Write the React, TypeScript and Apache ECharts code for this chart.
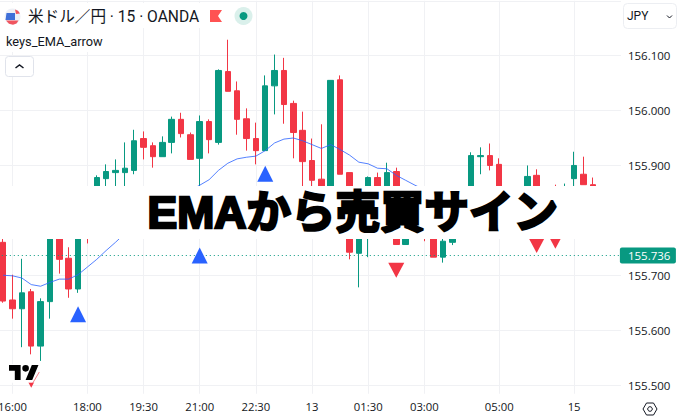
import React, { useEffect, useRef } from "react";
import * as echarts from "echarts";

const categories = [
  "15:30","15:45","16:00","16:15","16:30","16:45","17:00","17:15","17:30","17:45",
  "18:00","18:15","18:30","18:45","19:00","19:15","19:30","19:45","20:00","20:15",
  "20:30","20:45","21:00","21:15","21:30","21:45","22:00","22:15","22:30","22:45",
  "23:00","23:15","23:30","23:45","13","00:15","00:30","00:45","01:00","01:15",
  "01:30","01:45","02:00","02:15","02:30","02:45","03:00","03:15","03:30","03:45",
  "04:00","04:15","04:30","04:45","05:00","05:15","05:30","05:45","06:00","06:15",
  "06:30","06:45","15","07:15","07:30","07:45","08:00","08:15",
];
const timeLabels = ["16:00","18:00","19:30","21:00","22:30","13","01:30","03:00","05:00","15"];
const priceTicks = [155.5,155.6,155.7,155.8,155.9,156.0,156.1,156.2];
const priceLabels = [155.5,155.6,155.7,155.9,156.0,156.1];

const opens = [155.760,155.655,155.639,155.670,155.571,155.652,155.795,155.731,155.675,155.800,155.810,155.876,155.887,155.887,155.891,155.949,155.936,155.916,155.942,155.984,155.956,155.913,155.980,155.942,156.071,156.036,155.985,155.949,155.927,156.045,156.073,156.013,155.964,155.909,155.875,155.790,156.056,155.887,155.740,155.820,155.878,155.830,155.889,155.756,155.800,155.820,155.830,155.733,155.760,155.805,155.800,155.916,155.918,155.902,155.835,155.810,155.820,155.882,155.810,155.840,155.815,155.876,155.884,155.865];
const closes = [155.653,155.639,155.668,155.571,155.652,155.790,155.729,155.675,155.785,155.775,155.878,155.889,155.891,155.895,155.945,155.933,155.916,155.942,155.984,155.958,155.911,155.980,155.947,156.073,156.035,155.984,155.949,155.927,156.045,156.073,156.011,155.960,155.907,155.873,155.820,156.055,155.884,155.742,155.800,155.878,155.835,155.887,155.756,155.815,155.812,155.790,155.733,155.762,155.790,155.785,155.918,155.918,155.900,155.830,155.810,155.835,155.880,155.820,155.830,155.815,155.845,155.900,155.865,155.790];
const lows = [155.650,155.621,155.569,155.556,155.544,155.621,155.703,155.659,155.668,155.758,155.805,155.840,155.850,155.855,155.884,155.911,155.896,155.916,155.922,155.951,155.911,155.860,155.922,155.938,156.035,155.956,155.927,155.902,155.927,155.993,155.976,155.913,155.850,155.840,155.795,155.780,155.884,155.729,155.678,155.733,155.800,155.810,155.756,155.756,155.785,155.762,155.733,155.723,155.755,155.770,155.790,155.884,155.891,155.800,155.795,155.800,155.800,155.790,155.795,155.800,155.800,155.840,155.865,155.775];
const highs = [155.778,155.701,155.730,155.675,155.658,155.800,155.805,155.751,155.795,155.812,155.882,155.902,155.911,155.942,155.965,155.962,155.942,155.953,155.989,155.996,155.960,155.991,155.984,156.075,156.129,156.053,156.004,155.978,156.064,156.102,156.096,156.018,155.998,155.949,155.975,156.055,156.064,155.887,155.810,155.880,155.887,155.905,155.896,155.830,155.825,155.835,155.845,155.775,155.800,155.820,155.924,155.933,155.940,155.913,155.850,155.850,155.900,155.893,155.850,155.865,155.867,155.925,155.916,155.878];
const ema = [155.700,155.699,155.695,155.683,155.680,155.687,155.693,155.693,155.701,155.715,155.729,155.745,155.760,155.776,155.790,155.803,155.815,155.826,155.838,155.846,155.855,155.864,155.874,155.891,155.904,155.912,155.915,155.917,155.927,155.941,155.948,155.950,155.945,155.938,155.931,155.938,155.929,155.919,155.906,155.903,155.895,155.894,155.882,155.873,155.864,155.856,155.850,155.842,155.838,155.835,155.838,155.840,155.842,155.843,155.842,155.840,155.842,155.843,155.842,155.841,155.842,155.846,155.848,155.846];

const buyCandles = [8, 21, 28];
const buyPrices = [155.629, 155.736, 155.885];
const sellCandles = [3, 42, 57, 59];
const sellPrices = [155.509, 155.709, 155.754, 155.762];

const lastPrice = 155.736;
const title = "EMAから売買サイン";
const symbolTitle = "米ドル／円 · 15 · OANDA";
const indicatorName = "keys_EMA_arrow";
const currency = "JPY";

const GREEN = "#089981";
const RED = "#f23645";
const BLUE = "#2962ff";
const INK = "#131722";
const LATIN = 'Roboto,"Noto Sans CJK JP",sans-serif';

function App() {
  const ref = useRef<HTMLDivElement>(null);
  useEffect(() => {
    if (!ref.current) return;
    const chart = echarts.init(ref.current, undefined, { renderer: "svg" });
    try {
      echarts.graphic.registerShape(
        "tvlogo",
        echarts.graphic.extendPath("M14 22H7V11H0V4h14v18zM28 22h-8l7.5-18h8L28 22zM24 8a4 4 0 1 1-8 0 4 4 0 0 1 8 0z", {})
      );
    } catch (e) {}

    const pad = 1;
    const blank = ["-", "-", "-", "-"];
    const candleData = categories.map((_, k) => {
      const i = k - pad;
      return i >= 0 && i < opens.length ? [opens[i], closes[i], lows[i], highs[i]] : blank;
    });
    const emaData = categories.map((_, k) => {
      const i = k - pad;
      return i >= 0 && i < ema.length ? ema[i] : "-";
    });
    const showTime = (_: number, v: string) => timeLabels.includes(v);

    const overlay: any[] = [
      // overlay band for the thumbnail title
      { type: "rect", shape: { x: 0, y: 186, width: 680, height: 53 }, style: { fill: "#ffffff" } },
      {
        type: "text", x: 147.5, y: 212,
        style: {
          text: title, fontSize: 44.5, fontWeight: "bold",
          fontFamily: '"Liberation Sans","Noto Sans CJK JP",sans-serif',
          fill: "#000000", stroke: "#000000", lineWidth: 2.5,
          textVerticalAlign: "middle", verticalAlign: "middle", align: "left",
        },
      },
      // legend backgrounds
      { type: "rect", shape: { x: 0, y: 3, width: 254, height: 25 }, style: { fill: "#ffffff" } },
      { type: "rect", shape: { x: 0, y: 28, width: 105, height: 24 }, style: { fill: "#ffffff" } },
      // flag
      { type: "circle", shape: { cx: 12.5, cy: 16.5, r: 8 }, style: { fill: "#eef0f6" } },
      { type: "polygon", shape: { points: [[6.5, 13], [15, 13], [15, 20], [5.5, 20]] }, style: { fill: "#3f6fd8" } },
      { type: "polygon", shape: { points: [[6, 20.5], [18.5, 20.5], [16.5, 23.5], [13, 24.8], [9, 23.8]] }, style: { fill: "#f0555f" } },
      { type: "polygon", shape: { points: [[15, 9.5], [18, 10.8], [20, 13.5], [16, 14]] }, style: { fill: "#f0555f" } },
      {
        type: "text", x: 28, y: 16.5,
        style: { text: symbolTitle, fontSize: 15.6, fontFamily: LATIN, fill: INK, verticalAlign: "middle", textVerticalAlign: "middle" },
      },
      { type: "polygon", shape: { points: [[210, 10], [222, 10], [218, 16], [222, 22], [210, 22]] }, style: { fill: "#ff5252" } },
      { type: "circle", shape: { cx: 243.5, cy: 16, r: 9 }, style: { fill: "#daf0eb" } },
      { type: "circle", shape: { cx: 243.5, cy: 16, r: 4 }, style: { fill: GREEN } },
      {
        type: "text", x: 6, y: 41.5,
        style: { text: indicatorName, fontSize: 12.8, fontFamily: LATIN, fill: INK, verticalAlign: "middle", textVerticalAlign: "middle" },
      },
      { type: "rect", shape: { x: 5.5, y: 56.5, width: 28, height: 20, r: 3 }, style: { fill: "#ffffff", stroke: "#e0e3eb", lineWidth: 1 } },
      { type: "polyline", shape: { points: [[15.5, 68], [19.5, 65], [23.5, 68]] }, style: { fill: "none", stroke: INK, lineWidth: 1.5 } },
      // currency button
      { type: "rect", shape: { x: 623.5, y: 3.5, width: 53, height: 25, r: 4 }, style: { fill: "#ffffff", stroke: "#eceef2", lineWidth: 1 } },
      {
        type: "text", x: 627, y: 16,
        style: { text: currency, fontSize: 12, fontFamily: LATIN, fill: INK, verticalAlign: "middle", textVerticalAlign: "middle" },
      },
      { type: "polyline", shape: { points: [[667, 15.5], [669.5, 18], [672, 15.5]] }, style: { fill: "none", stroke: INK, lineWidth: 1 } },
      // settings gear
      { type: "polygon", shape: { points: [[643, 409], [646.5, 403], [653.5, 403], [657, 409], [653.5, 415], [646.5, 415]] }, style: { fill: "none", stroke: INK, lineWidth: 1 } },
      { type: "circle", shape: { cx: 650, cy: 409, r: 2.3 }, style: { fill: "none", stroke: INK, lineWidth: 1 } },
      // TradingView logo
      { type: "rect", shape: { x: 9, y: 364, width: 32, height: 18.7 }, style: { fill: "#ffffff" } },
      { type: "line", shape: { x1: 39.3, y1: 372, x2: 31, y2: 386 }, style: { stroke: RED, lineWidth: 0.8, opacity: 0.8 } },
      { type: "tvlogo", x: 9, y: 361.7, scaleX: 0.83, scaleY: 0.83, style: { fill: "#000000" } },
    ];

    chart.setOption({
      animation: false,
      backgroundColor: "#ffffff",
      grid: { left: -6.2, right: 59.1, top: 0.75, bottom: 26.25, containLabel: false, outerBoundsMode: "none" },
      xAxis: {
        type: "category",
        data: categories,
        boundaryGap: false,
        axisLine: { show: false },
        axisTick: { show: false },
        axisLabel: {
          interval: showTime,
          margin: 7.5,
          color: INK,
          fontSize: 11.3,
          fontFamily: '"Open Sans",sans-serif',
        },
        splitLine: { show: true, interval: showTime, lineStyle: { color: "#f0f1f4", width: 1 } },
      },
      yAxis: {
        type: "value",
        position: "right",
        min: 155.4842,
        max: 156.2,
        axisLine: { show: false },
        axisTick: { show: false, customValues: priceTicks },
        axisLabel: {
          customValues: priceLabels,
          margin: 7,
          color: INK,
          fontSize: 11.5,
          fontFamily: '"Open Sans",sans-serif',
          formatter: (v: number) => v.toFixed(3),
        },
        splitLine: { show: true, lineStyle: { color: "#f0f1f4", width: 1 } },
      },
      series: [
        {
          type: "candlestick",
          data: candleData,
          barWidth: 6,
          z: 3,
          clip: false,
          itemStyle: { color: GREEN, color0: RED, borderColor: GREEN, borderColor0: RED, borderWidth: 1 },
          markLine: {
            silent: true,
            symbol: "none",
            animation: false,
            precision: 3,
            data: [{ yAxis: lastPrice }],
            lineStyle: { color: GREEN, type: [1, 3], width: 1 },
            label: {
              position: "end",
              distance: -1,
              formatter: () => lastPrice.toFixed(3),
              color: "#ffffff",
              backgroundColor: GREEN,
              fontSize: 11.5,
              fontFamily: '"Open Sans",sans-serif',
              padding: [2, 6, 2, 8],
              borderRadius: 2,
              width: 42,
              height: 12,
              lineHeight: 12,
            },
          },
        },
        {
          type: "line",
          data: emaData,
          symbol: "none",
          z: 4,
          smooth: false,
          lineStyle: { color: BLUE, width: 1, opacity: 0.8 },
        },
        {
          type: "scatter",
          data: buyCandles.map((c, i) => [categories[c + pad], buyPrices[i]]),
          symbol: "triangle",
          symbolSize: [16, 16],
          z: 5,
          itemStyle: { color: BLUE, opacity: 1 },
        },
        {
          type: "scatter",
          data: sellCandles.map((c, i) => [categories[c + pad], sellPrices[i]]),
          symbol: "triangle",
          symbolRotate: 180,
          symbolSize: [16, 15],
          z: 5,
          itemStyle: { color: RED, opacity: 1 },
        },
      ],
      graphic: { elements: overlay.map((el) => ({ ...el, z: 100 })) },
    });
    return () => chart.dispose();
  }, []);
  return <div ref={ref} style={{ position: "fixed", left: 0, top: 0, width: 680, height: 420, background: "#fff" }} />;
}

export default App;
